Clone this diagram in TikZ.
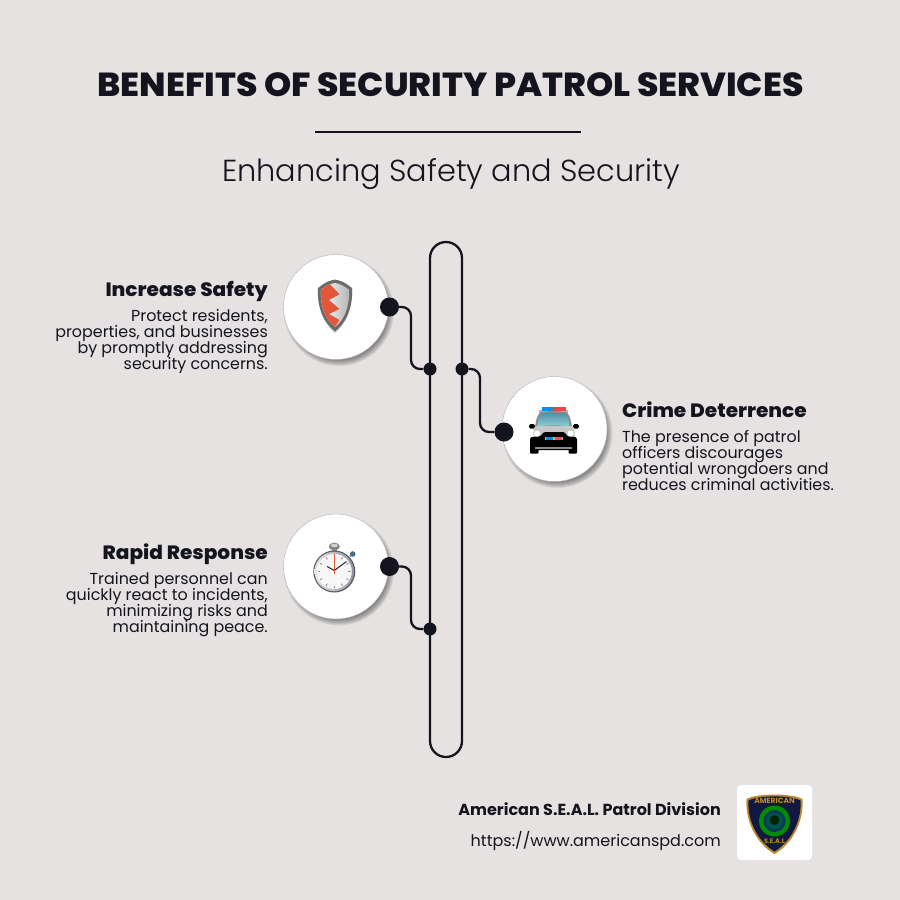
\documentclass[tikz,border=0pt]{standalone}
\usepackage{fontspec}
\setmainfont{Poppins}
\newfontfamily\heavyfont[FakeStretch=1.04]{Poppins ExtraBold}
\newfontfamily\lightfont{Poppins Light}
\usetikzlibrary{calc}

\definecolor{paper}{HTML}{E5E2E1}
\definecolor{ink}{HTML}{14141F}
\definecolor{shred}{HTML}{E2573A}
\definecolor{navy}{HTML}{12183F}
\definecolor{gold}{HTML}{B98A2E}
\definecolor{glasstop}{HTML}{4F8FA0}
\definecolor{glasslow}{HTML}{8FD0D8}

\def\bodyfont{\fontsize{15.9}{16}\selectfont\lineskiplimit=-6pt\relax}

\tikzset{
	wire/.style={line width=2.3pt, color=ink, rounded corners=9pt},
	bigdot/.style={circle, fill=ink, inner sep=0pt, minimum size=19pt},
	smalldot/.style={circle, fill=ink, inner sep=0pt, minimum size=13pt},
	headtext/.style={inner sep=0pt, color=ink, font=\fontsize{19.3}{24}\heavyfont},
	leftbody/.style={inner sep=0pt, color=ink, align=right, anchor=north east, font=\bodyfont},
	rightbody/.style={inner sep=0pt, color=ink, align=left, anchor=north west, font=\bodyfont},
}
% white disc with a soft shadow to the lower right
\def\iconplate(#1,#2){
	\foreach \r in {0,1,...,7}
		\fill[black, opacity=0.07] ({#1+3},{#2+4}) circle ({55pt-\r*1pt});
	\fill[white] (#1,#2) circle (52.5pt);
	\draw[black!30, line width=0.4pt] (#1,#2) circle (52.5pt);
}

\begin{document}
\begin{tikzpicture}[x=1pt, y=-1pt]
	\useasboundingbox (0, 0) rectangle (900, 900);
	\fill[paper] (0, 0) rectangle (900, 900);

	%%%%% TITLE %%%%%
	\node[inner sep=0pt, color=ink, font=\fontsize{33.3}{36}\heavyfont] (title) at (450.5, 84.5) {BENEFITS OF SECURITY PATROL SERVICES};
	\fill[ink] (315, 131) rectangle (581, 133.4);
	\node[inner sep=0pt, color=ink, font=\fontsize{30.4}{36}\lightfont] (subtitle) at (451, 174.5) {Enhancing Safety and Security};

	%%%%% PLATES %%%%%
	\iconplate(336,307)
	\iconplate(554.5,429)
	\iconplate(336,566.5)

	%%%%% RAIL %%%%%
	\draw[line width=2.3pt, color=ink, rounded corners=16pt] (430, 242) rectangle (462, 757);

	%%%%% DOTS AND WIRES %%%%%
	\node[bigdot] (dotsafety) at (389.5, 307) {};
	\node[smalldot] (railsafety) at (430, 369) {};
	\coordinate (bendsafety) at (411, 338);
	\draw[wire] (dotsafety) -| (bendsafety) |- (railsafety);

	\node[smalldot] (railcrime) at (462, 369) {};
	\node[bigdot] (dotcrime) at (504, 432) {};
	\coordinate (bendcrime) at (480, 400);
	\draw[wire] (railcrime) -| (bendcrime) |- (dotcrime);

	\node[bigdot] (dotrapid) at (389.5, 566.5) {};
	\node[smalldot] (railrapid) at (430, 629) {};
	\coordinate (bendrapid) at (411, 598);
	\draw[wire] (dotrapid) -| (bendrapid) |- (railrapid);

	%%%%% TEXTS %%%%%
	\node[headtext, anchor=base east] (headsafety) at (268, 296.5) {Increase Safety};
	\node[leftbody] (bodysafety) at (268, 309) {Protect residents,\\properties, and businesses\\by promptly addressing\\security concerns.};

	\node[headtext, anchor=base west] (headcrime) at (622, 417) {Crime Deterrence};
	\node[rightbody] (bodycrime) at (622, 430.3) {The presence of patrol\\officers discourages\\potential wrongdoers and\\reduces criminal activities.};

	\node[headtext, anchor=base east] (headrapid) at (268, 559.5) {Rapid Response};
	\node[leftbody] (bodyrapid) at (268, 572.3) {Trained personnel can\\quickly react to incidents,\\minimizing risks and\\maintaining peace.};

	%%%%% SHIELD %%%%%
	\fill[black!30, opacity=0.6] (318, 289) .. controls (326, 283) and (328, 282) .. (335, 280) .. controls (342, 282) and (344, 283) .. (352, 289) .. controls (353, 309) and (346, 324) .. (335, 333) .. controls (324, 324) and (317, 309) .. (318, 289) -- cycle;
	\fill[black!58] (318, 288) .. controls (326, 282) and (328, 281) .. (335, 279.5) .. controls (342, 281) and (344, 282) .. (352, 288) .. controls (353, 308) and (346, 323) .. (335, 331.5) .. controls (324, 323) and (317, 308) .. (318, 288) -- cycle;
	\shade[left color=white, middle color=white, right color=black!30] (321, 289.5) .. controls (328, 285) and (330, 284) .. (335, 283) .. controls (340, 284) and (342, 285) .. (349, 289.5) .. controls (350, 307) and (344, 320) .. (335, 327) .. controls (326, 320) and (320, 307) .. (321, 289.5) -- cycle;
	\fill[shred] (321, 289.5) .. controls (325, 287) and (327, 285.5) .. (330, 284.3) -- (339.5, 294.3) -- (329, 300) -- (339.5, 309) -- (329, 314) -- (339.5, 320) -- (335, 327) .. controls (326, 320) and (320, 307) .. (321, 289.5) -- cycle;

	%%%%% POLICE CAR %%%%%
	\fill[black!30, rounded corners=1pt] (539, 410) rectangle (568, 414);
	\fill[blue!45!cyan] (541.5, 407) rectangle (551, 411);
	\fill[black!55] (551, 407) rectangle (556, 411);
	\fill[red!75] (556, 407) rectangle (566, 411);
	\fill[black!45] (535, 427) .. controls (536, 420) and (537, 416) .. (540, 412.5) .. controls (548, 410.5) and (559, 410.5) .. (567, 412.5) .. controls (570, 416) and (571, 420) .. (572, 427) -- cycle;
	\shade[top color=glasstop, bottom color=glasslow] (537.5, 426.5) .. controls (538, 420) and (539, 417) .. (541, 414) .. controls (548, 412.5) and (559, 412.5) .. (566, 414) .. controls (568, 417) and (569, 420) .. (569.5, 426.5) .. controls (560, 425) and (547, 425) .. (537.5, 426.5) -- cycle;
	\fill[black, rounded corners=1.5pt] (529, 424) rectangle (535, 428.5);
	\fill[black, rounded corners=1.5pt] (573, 424) rectangle (579, 428.5);
	\fill[black, rounded corners=1pt] (530, 447) rectangle (538.5, 453.5);
	\fill[black, rounded corners=1pt] (568.5, 447) rectangle (577, 453.5);
	\fill[black!22, rounded corners=3pt] (533, 438) -- (534, 426) -- (574, 426) -- (575, 438) -- cycle;
	\fill[black, rounded corners=2.5pt] (530, 450) -- (530, 437) -- (541, 436.5) -- (543, 432) -- (565, 432) -- (567, 436.5) -- (577, 437) -- (577, 450) -- cycle;
	\fill[black!45] (535, 446.5) rectangle (572, 449);
	\fill[white] (537, 433.5) circle (3pt);
	\fill[white] (570.5, 433.5) circle (3pt);
	\fill[black!30] (545, 436.5) rectangle (563, 440);
	\fill[cyan!70!blue] (546, 437) rectangle (553, 439.5);
	\fill[red!70] (555, 437) rectangle (562, 439.5);

	%%%%% STOPWATCH %%%%%
	\fill[black!50] (334.3, 546.5) ellipse (5.5pt and 3.8pt);
	\fill[black!18] (334.3, 545.5) ellipse (3.5pt and 1.8pt);
	\fill[black!45] (332, 549) rectangle (337, 553);
	\draw[black!50, line width=1.6pt] (350, 556.5) -- (352.7, 554);
	\fill[black!55!cyan] (352.7, 554) circle (2.8pt);
	\fill[black!65] (334.3, 571.5) circle (21pt);
	\shade[left color=black!10, right color=blue!20!black!45] (334.3, 571.5) circle (19.8pt);
	\fill[black!3] (334.3, 571.5) circle (17.5pt);
	\foreach \a in {0,30,...,330}
		\draw[black!45, line width=0.8pt] ($(334.3, 571.5)+(\a:14pt)$) -- ($(334.3, 571.5)+(\a:16.5pt)$);
	\draw[black!85, line width=1pt] (334.3, 570.5) -- (327, 566.5);
	\draw[black!85, line width=1pt] (334.3, 570.5) -- (346.5, 561.5);
	\draw[shred, line width=0.7pt] (334.3, 554) -- (334.3, 574);

	%%%%% FOOTER %%%%%
	\node[inner sep=0pt, anchor=east, color=ink, font=\fontsize{16}{18}\selectfont\bfseries] (company) at (721, 809) {American S.E.A.L. Patrol Division};
	\node[inner sep=0pt, anchor=east, color=ink, font=\fontsize{16}{18}\selectfont] (website) at (721, 841) {https://www.americanspd.com};

	\fill[white, rounded corners=4pt] (737, 785) rectangle (812, 860);
	\fill[gold] (746.5, 799) .. controls (757, 793) and (792, 793) .. (802.5, 799) .. controls (804, 822) and (792, 844) .. (774.5, 854) .. controls (757, 844) and (745, 822) .. (746.5, 799) -- cycle;
	\fill[navy] (748.5, 800.5) .. controls (759, 795) and (790, 795) .. (800.5, 800.5) .. controls (802, 822) and (790, 842) .. (774.5, 851.5) .. controls (759, 842) and (747, 822) .. (748.5, 800.5) -- cycle;
	\fill[green!55!black] (774.5, 821) circle (15.5pt);
	\fill[navy!70!teal] (774.5, 821) circle (11pt);
	\fill[teal!65!black] (774.5, 821) circle (8.5pt);
	\fill[black!85!green] (774.5, 820) circle (5pt);
	\node[inner sep=0pt, color=gold, font=\fontsize{7.5}{8}\selectfont\bfseries] (badgetop) at (774.5, 800.5) {AMERICAN};
	\node[inner sep=0pt, color=gold, font=\fontsize{6.5}{8}\selectfont\bfseries] (badgebottom) at (774.5, 841) {S.E.A.L};
\end{tikzpicture}
\end{document}
